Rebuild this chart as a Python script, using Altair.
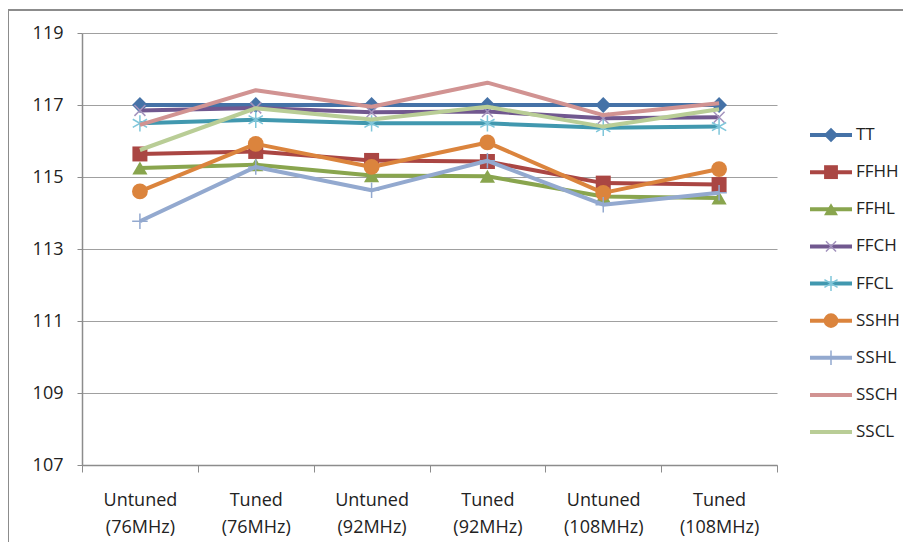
import altair as alt
import pandas as pd

categories = ["Untuned (76MHz)", "Tuned (76MHz)", "Untuned (92MHz)",
              "Tuned (92MHz)", "Untuned (108MHz)", "Tuned (108MHz)"]
series_names = ["TT", "FFHH", "FFHL", "FFCH", "FFCL", "SSHH", "SSHL", "SSCH", "SSCL"]

TT = [117.0, 117.0, 117.0, 117.0, 117.0, 117.0]
FFHH = [115.64, 115.71, 115.46, 115.43, 114.83, 114.79]
FFHL = [115.25, 115.34, 115.04, 115.02, 114.46, 114.42]
FFCH = [116.85, 116.92, 116.80, 116.82, 116.63, 116.66]
FFCL = [116.49, 116.59, 116.49, 116.49, 116.37, 116.40]
SSHH = [114.60, 115.92, 115.28, 115.96, 114.56, 115.22]
SSHL = [113.77, 115.28, 114.63, 115.45, 114.23, 114.56]
SSCH = [116.45, 117.41, 116.95, 117.62, 116.72, 117.05]
SSCL = [115.75, 116.91, 116.60, 116.95, 116.40, 116.88]

y_ticks = [107, 109, 111, 113, 115, 117, 119]

values = {"TT": TT, "FFHH": FFHH, "FFHL": FFHL, "FFCH": FFCH, "FFCL": FFCL,
          "SSHH": SSHH, "SSHL": SSHL, "SSCH": SSCH, "SSCL": SSCL}

rows = [dict(category=c, series=s, value=v)
        for s in series_names for c, v in zip(categories, values[s])]
df = pd.DataFrame(rows)
legend_df = pd.DataFrame({"series": series_names})
frame_df = pd.DataFrame({"a": [0]})

X_PATH = "M-1,-1L1,1M-1,1L1,-1"
AST_PATH = "M0,-1L0,1M-0.87,-0.5L0.87,0.5M-0.87,0.5L0.87,-0.5"
PLUS_PATH = "M-1,0L1,0M0,-1L0,1"

style = {
    "TT":   dict(color="#4572A7", mcolor="#4572A7", shape="diamond", filled=True, size=250, sw=0),
    "FFHH": dict(color="#AA4643", mcolor="#AA4643", shape="square", filled=True, size=225, sw=0),
    "FFHL": dict(color="#89A54E", mcolor="#89A54E", shape="triangle-up", filled=True, size=230, sw=0),
    "FFCH": dict(color="#71588F", mcolor="#A393BD", shape=X_PATH, filled=False, size=120, sw=1.5),
    "FFCL": dict(color="#4198AF", mcolor="#7FC6DA", shape=AST_PATH, filled=False, size=270, sw=1.5),
    "SSHH": dict(color="#DB843D", mcolor="#DB843D", shape="circle", filled=True, size=250, sw=0),
    "SSHL": dict(color="#93A9CF", mcolor="#93A9CF", shape=PLUS_PATH, filled=False, size=240, sw=1.5),
    "SSCH": dict(color="#D19392", mcolor="#D19392", shape=None, filled=True, size=0, sw=0),
    "SSCL": dict(color="#B9CD96", mcolor="#B9CD96", shape=None, filled=True, size=0, sw=0),
}

FONT = "Open Sans"
TXT = "#222222"

x_enc = alt.X(
    "category:N",
    bandPosition=0.5,
    scale=alt.Scale(type="band", domain=categories, paddingInner=0, paddingOuter=0),
    axis=alt.Axis(title=None, labelAngle=0, labelExpr="split(datum.label, ' ')",
                  tickBand="extent", tickSize=7, tickColor="#8c8c8c",
                  domainColor="#8c8c8c", domainWidth=1.5, labelPadding=19,
                  labelLineHeight=27, labelFontSize=18, labelFont=FONT,
                  labelColor=TXT, grid=False),
)
y_enc = alt.Y(
    "value:Q",
    scale=alt.Scale(domain=[107, 119], nice=False, zero=False),
    axis=alt.Axis(title=None, values=y_ticks, tickSize=5, tickColor="#8c8c8c",
                  domainColor="#8c8c8c", domainWidth=1.5, labelPadding=14,
                  labelFontSize=18, labelFont=FONT, labelColor=TXT,
                  grid=True, gridColor="#a0a0a0", gridWidth=1.2),
)

main_layers = []
for s in series_names:
    st = style[s]
    base = alt.Chart(df).transform_filter(alt.datum.series == s)
    main_layers.append(
        base.mark_line(color=st["color"], strokeWidth=4, strokeJoin="round")
        .encode(x=x_enc, y=y_enc)
    )
    if st["shape"] is not None:
        if st["filled"]:
            pm = base.mark_point(shape=st["shape"], filled=True, size=st["size"],
                                 opacity=1, color=st["mcolor"])
        else:
            pm = base.mark_point(shape=st["shape"], filled=False, size=st["size"],
                                 opacity=1, color=st["mcolor"], strokeWidth=st["sw"])
        main_layers.append(pm.encode(x=x_enc, y=y_enc))

main = alt.layer(*main_layers)

y_leg = alt.Y("series:N",
              scale=alt.Scale(type="point", domain=series_names, range=[102, 399], padding=0),
              axis=None)

legend_layers = []
for s in series_names:
    st = style[s]
    base = alt.Chart(legend_df).transform_filter(alt.datum.series == s)
    legend_layers.append(
        base.mark_rule(color=st["color"], strokeWidth=4)
        .encode(x=alt.value(728), x2=alt.value(770), y=y_leg)
    )
    if st["shape"] is not None:
        if st["filled"]:
            pm = base.mark_point(shape=st["shape"], filled=True, size=st["size"] * 0.85,
                                 opacity=1, color=st["mcolor"])
        else:
            pm = base.mark_point(shape=st["shape"], filled=False, size=st["size"] * 0.85,
                                 opacity=1, color=st["mcolor"], strokeWidth=st["sw"])
        legend_layers.append(pm.encode(x=alt.value(749), y=y_leg))

legend_layers.append(
    alt.Chart(legend_df).mark_text(align="left", baseline="middle", font=FONT,
                                   fontSize=17, color=TXT)
    .encode(x=alt.value(774), y=y_leg, text="series:N")
)
legend = alt.layer(*legend_layers)

frame = alt.Chart(frame_df).mark_rect(fillOpacity=0, stroke="#8c8c8c", strokeWidth=2).encode(
    x=alt.value(-74), x2=alt.value(900), y=alt.value(-23), y2=alt.value(700)
)

chart = (
    alt.layer(frame, main, legend)
    .resolve_scale(y="independent")
    .properties(width=695, height=432,
                autosize=alt.AutoSizeParams(type="none"),
                padding={"left": 74, "top": 25, "right": 126, "bottom": 77},
                background="white")
    .configure_view(strokeWidth=0)
)

chart.save("out.html", embed_options={"renderer": "svg", "actions": False})
